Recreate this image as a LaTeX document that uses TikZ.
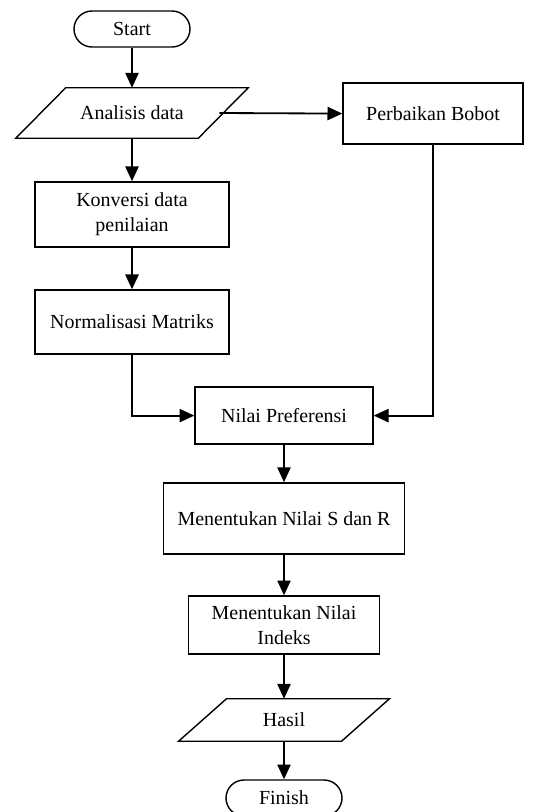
\documentclass[tikz,border=0pt]{standalone}
\usepackage{fontspec}
\setmainfont{Liberation Serif}
\usetikzlibrary{arrows.meta}

\begin{document}
\begin{tikzpicture}[
    every node/.style={font=\fontsize{14.2}{17.8}\selectfont},
    box/.style={draw, rectangle, line width=1pt, align=center},
    data/.style={rectangle, inner sep=0pt},
    border/.style={line width=1pt},
    terminal/.style={draw, rectangle, rounded corners=0.45cm, line width=1pt, minimum width=2.9cm, minimum height=0.9cm},
    arrow/.style={-{Triangle[length=3.7mm, width=3.3mm]}, line width=1.3pt}
  ]
    \useasboundingbox (0,0) rectangle (13.85,-20.3);

    % kolom kiri
    \node[terminal] (start) at (3.3,-0.725) {Start};
    \node[data, minimum width=4.55cm, minimum height=1.25cm] (analisis) at (3.3,-2.825) {Analisis data};
    \draw[border] ([xshift=0.625cm]analisis.north west) -- ([xshift=0.625cm]analisis.north east)
      -- ([xshift=-0.625cm]analisis.south east) -- ([xshift=-0.625cm]analisis.south west) -- cycle;
    \node[box, minimum width=4.85cm, minimum height=1.625cm] (konversi) at (3.3,-5.36) {Konversi data\\penilaian};
    \node[box, minimum width=4.85cm, minimum height=1.6cm] (normalisasi) at (3.3,-8.05) {Normalisasi Matriks};

    % kolom kanan
    \node[box, minimum width=4.5cm, minimum height=1.525cm] (perbaikan) at (10.825,-2.84) {Perbaikan Bobot};

    % kolom tengah
    \node[box, minimum width=4.45cm, minimum height=1.425cm] (preferensi) at (7.1,-10.39) {Nilai Preferensi};
    \node[box, minimum width=6.025cm, minimum height=1.775cm] (nilaisr) at (7.1,-12.96) {Menentukan Nilai S dan R};
    \node[box, minimum width=4.775cm, minimum height=1.45cm] (indeks) at (7.1,-15.625) {Menentukan Nilai\\Indeks};
    \node[data, minimum width=4.06cm, minimum height=1.05cm] (hasil) at (7.1,-18.0) {Hasil};
    \draw[border] ([xshift=0.6cm]hasil.north west) -- ([xshift=0.6cm]hasil.north east)
      -- ([xshift=-0.6cm]hasil.south east) -- ([xshift=-0.6cm]hasil.south west) -- cycle;
    \node[terminal] (finish) at (7.1,-19.95) {Finish};

    % panah
    \draw[arrow] (start.south) -- (analisis.north);
    \draw[arrow] ([xshift=-0.1cm]analisis.east) -- (perbaikan.west);
    \draw[arrow] (analisis.south) -- (konversi.north);
    \draw[arrow] (konversi.south) -- (normalisasi.north);
    \draw[arrow] (normalisasi.south) |- (preferensi.west);
    \draw[arrow] (perbaikan.south) |- (preferensi.east);
    \draw[arrow] (preferensi.south) -- (nilaisr.north);
    \draw[arrow] (nilaisr.south) -- (indeks.north);
    \draw[arrow] (indeks.south) -- (hasil.north);
    \draw[arrow] (hasil.south) -- (finish.north);
  \end{tikzpicture}
\end{document}
